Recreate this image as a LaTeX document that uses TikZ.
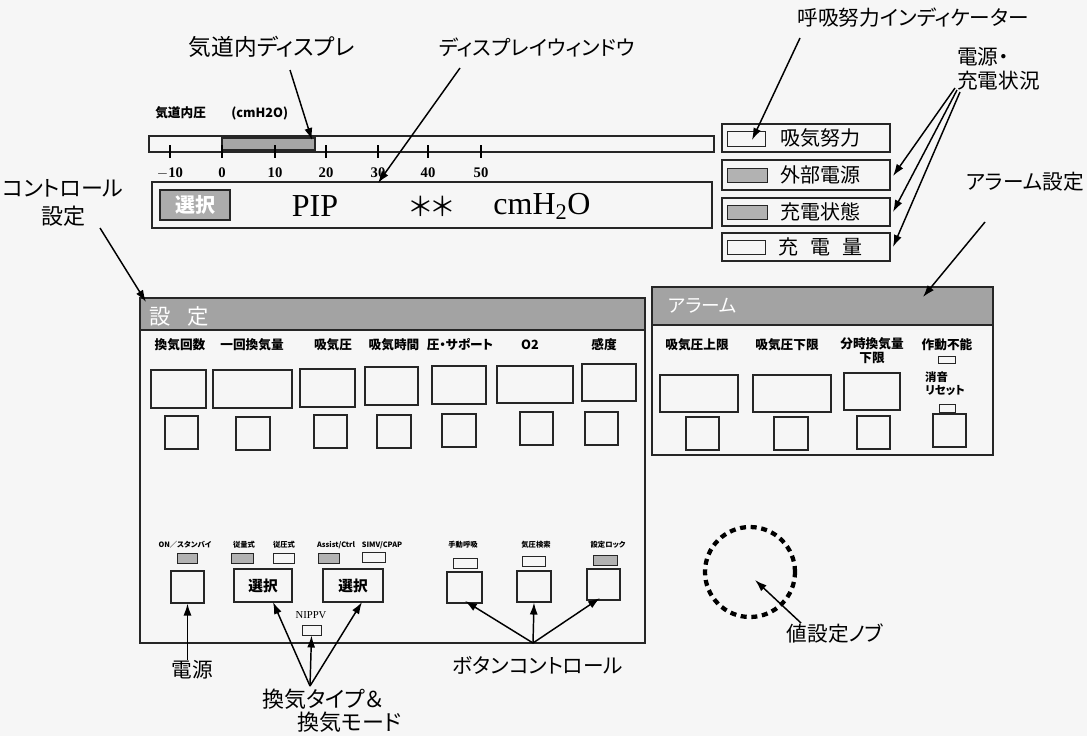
\documentclass[tikz,border=0pt]{standalone}
\usepackage{fontspec}
\setmainfont{Liberation Serif}
\newfontfamily\jp[RawFeature=+palt]{Noto Sans CJK JP}
\usetikzlibrary{arrows.meta,fit}
\newcommand\mkbox[6][]{\node[boxst,#1,fit={(#3,#4)(#5,#6)}] (#2) {};}
\begin{document}
\begin{tikzpicture}[x=0.75pt,y=-0.75pt,
  boxst/.style={draw=black!85, line width=0.8pt, inner sep=0pt},
  ann/.style={font=\jp\fontsize{15.5}{18}\selectfont, inner sep=0pt},
  arr/.style={-{Latex[length=9pt,width=6pt]}, line width=1.1pt},
  lab/.style={font=\jp\bfseries\fontsize{9.5}{10.5}\selectfont, inner sep=0pt},
  tiny/.style={font=\jp\bfseries\fontsize{5.5}{6}\selectfont, inner sep=0pt},
  ind/.style={boxst, line width=0.7pt},
  indf/.style={boxst, line width=0.7pt, fill=gray!60},
  bar/.style={boxst, fill=gray!72},
  num/.style={font=\bfseries\fontsize{11}{12}\selectfont, inner sep=0pt}]
\fill[gray!7] (0,0) rectangle (1087,736);
\useasboundingbox (0,0) rectangle (1087,736);

% ---------- airway pressure bar ----------
\node[lab, anchor=west] (pt) at (155,113) {気道内圧\hspace{2em}(cmH2O)};
\mkbox{pbar}{149}{136}{714}{152}
\mkbox[fill=gray!70]{pfill}{222}{138}{315}{150}
\foreach \x/\t in {170/$-$10,222/0,275/10,326/20,378/30,428/40,481/50}{
  \draw[line width=0.8pt] (\x,145) -- (\x,158);
  \node[num] (n\x) at (\x,173) {\t};
}

% ---------- display window ----------
\mkbox{disp}{152}{182}{712}{228}
\mkbox[fill=gray!65]{dsel}{160}{190}{230}{220}
\node[font=\jp\bfseries\fontsize{15}{16}\selectfont, text=white, inner sep=0pt] (dselt) at (dsel) {選択};
\node[font=\fontsize{24}{26}\selectfont, inner sep=0pt] (pip) at (315,206) {PIP};
\node[font=\jp\fontsize{20}{22}\selectfont, inner sep=0pt] (ast) at (432,206) {＊＊};
\node[font=\fontsize{24}{26}\selectfont, inner sep=0pt] (unit) at (542,206) {cmH\textsubscript{2}O};

% ---------- status column ----------
\mkbox{s1}{722}{124}{890}{152}
\mkbox{s2}{722}{160}{890}{190}
\mkbox{s3}{722}{198}{890}{226}
\mkbox{s4}{722}{233}{890}{261}
\mkbox[ind]{i1}{727}{131}{765}{146}
\mkbox[indf]{i2}{727}{168}{767}{182}
\mkbox[indf]{i3}{727}{205}{767}{219}
\mkbox[ind]{i4}{727}{240}{765}{254}
\node[font=\jp\fontsize{15}{16}\selectfont, inner sep=0pt] (t1) at (820,138) {吸気努力};
\node[font=\jp\fontsize{15}{16}\selectfont, inner sep=0pt] (t2) at (820,175) {外部電源};
\node[font=\jp\fontsize{15}{16}\selectfont, inner sep=0pt] (t3) at (820,212) {充電状態};
\node[font=\jp\fontsize{15}{16}\selectfont, inner sep=0pt] (t4) at (820,247) {充\hspace{0.6em}電\hspace{0.6em}量};

% ---------- control panel ----------
\mkbox{ctrl}{140}{298}{645}{643}
\mkbox[bar]{ctitle}{140}{298}{645}{330}
\node[font=\jp\fontsize{16}{17}\selectfont, text=white, inner sep=0pt, anchor=west] (cttl) at (149,316) {設\hspace{0.8em}定};
\foreach \x/\t [count=\i] in {180/換気回数,252/一回換気量,333/吸気圧,394/吸気時間,460/圧・サポート,530/O2,604/感度}{
  \node[lab] (cl\i) at (\x,345) {\t};
}
\mkbox{cd1}{151}{370}{206}{408}
\mkbox{cd2}{213}{370}{292}{408}
\mkbox{cd3}{300}{369}{355}{407}
\mkbox{cd4}{365}{367}{418}{405}
\mkbox{cd5}{432}{366}{486}{404}
\mkbox{cd6}{497}{366}{573}{403}
\mkbox{cd7}{582}{364}{636}{401}
\mkbox{cb1}{165}{416}{198}{449}
\mkbox{cb2}{236}{417}{270}{450}
\mkbox{cb3}{314}{415}{347}{448}
\mkbox{cb4}{377}{415}{411}{448}
\mkbox{cb5}{442}{414}{476}{447}
\mkbox{cb6}{520}{412}{553}{445}
\mkbox{cb7}{585}{412}{618}{445}

% bottom controls
\foreach \x/\t [count=\i] in {185/{ON／スタンバイ},244/従量式,284/従圧式,336/{Assist/Ctrl},382/{SIMV/CPAP},463/手動呼吸,536/気圧検索,608/設定ロック}{
  \node[tiny] (bl\i) at (\x,545) {\t};
}
\mkbox[indf]{bi1}{177}{553}{197}{563}
\mkbox[indf]{bi2}{231}{553}{253}{563}
\mkbox[ind]{bi3}{273}{553}{294}{563}
\mkbox[indf]{bi4}{318}{553}{339}{563}
\mkbox[ind]{bi5}{362}{552}{385}{562}
\mkbox[ind]{bi6}{453}{558}{477}{568}
\mkbox[ind]{bi7}{522}{556}{545}{566}
\mkbox[indf]{bi8}{593}{555}{617}{565}
\mkbox{pw}{171}{571}{204}{603}
\mkbox{sel1}{234}{569}{292}{602}
\mkbox{sel2}{323}{569}{383}{602}
\node[font=\jp\bfseries\fontsize{11}{12}\selectfont, inner sep=0pt] (sel1t) at (sel1) {選択};
\node[font=\jp\bfseries\fontsize{11}{12}\selectfont, inner sep=0pt] (sel2t) at (sel2) {選択};
\node[font=\fontsize{8}{9}\selectfont, inner sep=0pt] (nippv) at (311,615) {NIPPV};
\mkbox[ind]{nip}{302}{625}{321}{635}
\mkbox{bb1}{447}{572}{482}{603}
\mkbox{bb2}{517}{571}{551}{602}
\mkbox{bb3}{587}{569}{620}{600}

% ---------- alarm panel ----------
\mkbox{alarm}{652}{287}{993}{455}
\mkbox[bar]{atitle}{652}{287}{993}{325}
\node[font=\jp\fontsize{14}{15}\selectfont, text=white, inner sep=0pt, anchor=west] (attl) at (668,306) {アラーム};
\node[lab] (al1) at (697,345) {吸気圧上限};
\node[lab] (al2) at (787,345) {吸気圧下限};
\node[lab, align=center] (al3) at (872,351) {分時換気量\\下限};
\node[lab] (al4) at (947,345) {作動不能};
\mkbox[ind]{ai1}{938}{356}{955}{363}
\node[lab, align=left, font=\jp\bfseries\fontsize{8.5}{10}\selectfont] (al5) at (945,384) {消音\\リセット};
\mkbox[ind]{ai2}{939}{404}{955}{412}
\mkbox{ad1}{660}{375}{738}{412}
\mkbox{ad2}{753}{375}{831}{412}
\mkbox{ad3}{844}{373}{900}{410}
\mkbox{ab1}{686}{417}{719}{450}
\mkbox{ab2}{774}{417}{808}{450}
\mkbox{ab3}{857}{416}{890}{449}
\mkbox{ab4}{933}{414}{966}{447}

% ---------- knob ----------
\node[circle, draw, minimum size=67.5pt, line width=3.2pt, dash pattern=on 4.5pt off 3.5pt, inner sep=0pt] (knob) at (750,572) {};

% ---------- annotations ----------
\node[ann, font=\jp\fontsize{17}{18}\selectfont] (a1) at (272,47) {気道内ディスプレ};
\node[ann] (a2) at (537,47) {ディスプレイウィンドウ};
\node[ann] (a3) at (913,18) {呼吸努力インディケーター};
\node[ann, anchor=west, align=left] (a4) at (957,69) {電源・\\充電状況};
\node[ann] (a5) at (1025,182) {アラーム設定};
\node[ann, align=center, font=\jp\fontsize{16.5}{21}\selectfont] (a6) at (63,203) {コントロール\\設定};
\node[ann] (a7) at (192,670) {電源};
\node[ann, align=left, font=\jp\fontsize{16.5}{17.5}\selectfont] (a8) at (332,711) {換気タイプ＆\\\hspace{1.6em}換気モード};
\node[ann] (a9) at (538,665) {ボタンコントロール};
\node[ann] (a10) at (835,634) {値設定ノブ};

\coordinate (e1) at (312,140);
\coordinate (e2) at (378,183);
\coordinate (e3) at (752,140);
\coordinate (e6) at (146,302);
\coordinate (e5) at (923,297);
\coordinate (c9) at (533,643);
\coordinate (c8) at (310,686);
\coordinate (e10) at (755,580);

\draw[arr] (290,70) -- (e1);
\draw[arr] (460,68) -- (e2);
\draw[arr] (800,38) -- (e3);
\draw[arr] (955,88) -- (893,176);
\draw[arr] (957,90) -- (893,212);
\draw[arr] (960,92) -- (893,247);
\draw[arr] (985,222) -- (e5);
\draw[arr] (100,228) -- (e6);
\draw[arr] (pw.south |- a7.north) -- (pw.south);
\draw[arr] (c8) -- (273,602);
\draw[arr] (c8) -- (nip.south);
\draw[arr] (c8) -- (362,602);
\draw[arr] (c9) -- (465,601);
\draw[arr] (c9) -- (bb2.south);
\draw[arr] (c9) -- (600,598);
\draw[arr] (801,623) -- (e10);
\end{tikzpicture}
\end{document}
